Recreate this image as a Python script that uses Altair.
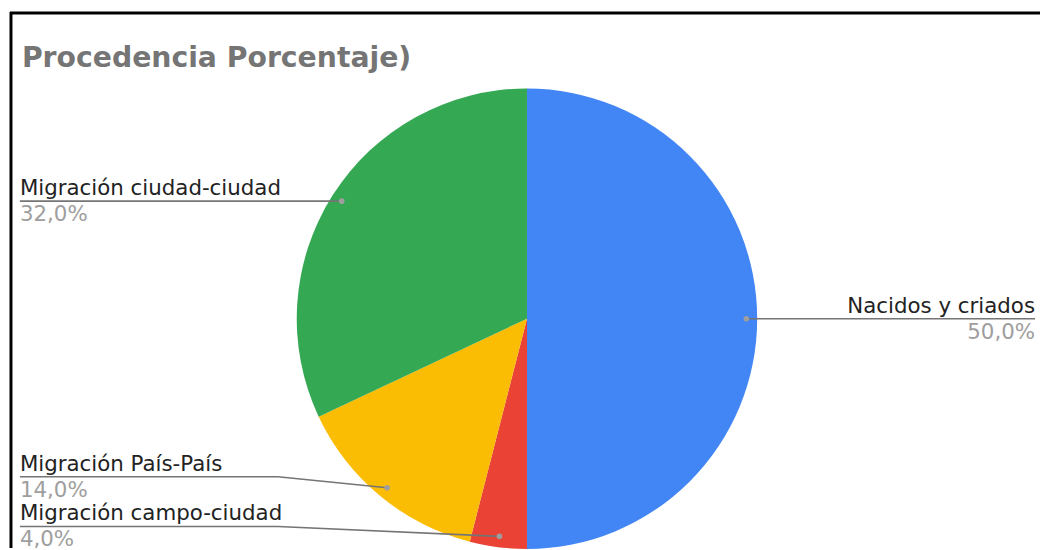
import math
import altair as alt
import pandas as pd

# ---- data ----
categories = ["Nacidos y criados", "Migración campo-ciudad", "Migración País-País", "Migración ciudad-ciudad"]
values = [50.0, 4.0, 14.0, 32.0]
colors = ["#4285F4", "#EA4335", "#FBBC04", "#34A853"]
title_text = "Procedencia Porcentaje)"

# ---- layout (chart pixel space; page = chart + 8) ----
W, H = 1040, 542
CX, CY, R = 523, 311, 232
DOT_R = 0.953 * R
LEFT_X, RIGHT_X = 12, 1035
# vertical shift of label line relative to anchor (for stacked small slices)
label_shift = {"Nacidos y criados": 0, "Migración campo-ciudad": -10,
               "Migración País-País": -11, "Migración ciudad-ciudad": 0}
elbow_x = 272
font = "DejaVu Sans"
fs = 21.5

total = sum(values)
rows, dots, lines, names, pcts = [], [], [], [], []
cum = 0.0
for i, (c, v) in enumerate(zip(categories, values)):
    mid = (cum + v / 2) / total * 2 * math.pi
    cum += v
    rows.append({"cat": c, "value": v, "order": i})
    ax = CX + DOT_R * math.sin(mid)
    ay = CY - DOT_R * math.cos(mid)
    dots.append({"cat": c, "x": ax, "y": ay})
    ly = ay + label_shift[c]
    right = math.sin(mid) > 0
    end_x = RIGHT_X if right else LEFT_X
    pts = [(ax, ay)]
    if label_shift[c] != 0:
        pts.append((elbow_x, ly))
    pts.append((end_x, ly))
    for k, (px, py) in enumerate(pts):
        lines.append({"cat": c, "k": k, "x": px, "y": py})
    pct = f"{v:.1f}".replace(".", ",") + "%"
    names.append({"t": c, "x": end_x, "y": ly - 6, "align": "right" if right else "left"})
    pcts.append({"t": pct, "x": end_x, "y": ly + 3, "align": "right" if right else "left"})

df = pd.DataFrame(rows)
ddf = pd.DataFrame(dots)
ldf = pd.DataFrame(lines)
ndf = pd.DataFrame(names)
pdf = pd.DataFrame(pcts)

pie = alt.Chart(df).mark_arc(radius=R).encode(
    theta=alt.Theta("value:Q", stack=True),
    color=alt.Color("cat:N", scale=alt.Scale(domain=categories, range=colors), legend=None),
    order=alt.Order("order:Q"),
    x=alt.value(CX), y=alt.value(CY),
)

X = lambda f: alt.X(f, type="quantitative", scale=None, axis=None)
Y = lambda f: alt.Y(f, type="quantitative", scale=None, axis=None)

leader = alt.Chart(ldf).mark_line(color="#757575", strokeWidth=1.6).encode(
    x=X("x"), y=Y("y"), detail="cat:N", order="k:Q")
dot = alt.Chart(ddf).mark_circle(color="#9e9e9e", opacity=1, size=32).encode(x=X("x"), y=Y("y"))

def textlayer(d, color, baseline):
    layers = []
    for al in ["left", "right"]:
        sub = d[d["align"] == al]
        if len(sub):
            layers.append(alt.Chart(sub).mark_text(align=al, baseline=baseline, font=font,
                                                   fontSize=fs, color=color).encode(
                x=X("x"), y=Y("y"), text="t:N"))
    return layers

tl = textlayer(ndf, "#222222", "alphabetic") + textlayer(pdf, "#9e9e9e", "top")

title = alt.Chart(pd.DataFrame({"t": [title_text]})).mark_text(
    align="left", baseline="alphabetic", font=font, fontSize=28.5, fontWeight="bold", color="#757575"
).encode(x=alt.value(14), y=alt.value(57), text="t:N")

border_top = alt.Chart(pd.DataFrame({"a": [0]})).mark_rule(color="#000000", strokeWidth=3).encode(
    x=alt.value(2), x2=alt.value(W), y=alt.value(3))
border_left = alt.Chart(pd.DataFrame({"a": [0]})).mark_rule(color="#000000", strokeWidth=3).encode(
    x=alt.value(3), y=alt.value(2), y2=alt.value(H))

chart = alt.layer(pie, leader, dot, *tl, title, border_top, border_left).properties(
    width=W, height=H, autosize=alt.AutoSizeParams(type="none"), padding=0
).configure_view(stroke=None)

chart.save("out.html", embed_options={"renderer": "svg", "actions": False})
